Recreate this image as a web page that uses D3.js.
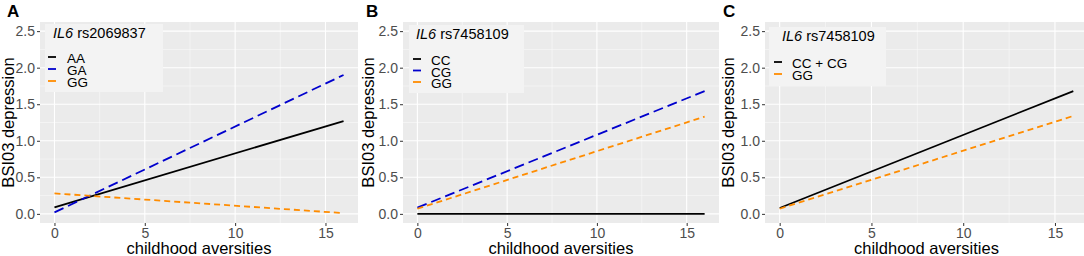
<!DOCTYPE html>
<html>
<head>
<meta charset="utf-8">
<script src="https://cdn.jsdelivr.net/npm/d3@7"></script>
<style>
  body { margin: 0; background: #fff; }
  svg { display: block; font-family: "Liberation Sans", Arial, sans-serif; }
</style>
</head>
<body>
<div id="chart-area"></div>
<script>
// values (lines are fitted slopes from 0 to 16)
const xVals = [0, 16];
const xTicks = [0, 5, 10, 15];
const xMinor = [2.5, 7.5, 12.5];
const yTicks = [0, 0.5, 1, 1.5, 2, 2.5];
const yMinor = [0.25, 0.75, 1.25, 1.75, 2.25];

const panelLetters = ['A', 'B', 'C'];
const snpNames = ['rs2069837', 'rs7458109', 'rs7458109'];

const groupsA = ['AA', 'GA', 'GG'];
const valsA = [[0.09, 1.27], [0.02, 1.90], [0.28, 0.01]];

const groupsB = ['CC', 'CG', 'GG'];
const valsB = [[0.0, 0.0], [0.085, 1.68], [0.07, 1.33]];

const groupsC = ['CC + CG', 'GG'];
const valsC = [[0.08, 1.68], [0.07, 1.34]];

const styles = {
  solid: {color: '#000000', dash: null},
  long: {color: '#0000cd', dash: '10,5'},
  short: {color: '#ff8c00', dash: '6,4'}
};

const W = 1084, H = 256;
const svg = d3.select('#chart-area')
  .append('svg')
  .attr('width', W)
  .attr('height', H);

const panels = [
  {left: 40, right: 358, titleX: 14, letterX: 7,
   legend: {x: 45, y: 24, w: 118, h: 68, titleDx: 8, keyDx: 3, textDx: 22, first: 63, step: 12},
   groups: groupsA, vals: valsA, kinds: ['solid', 'long', 'short']},
  {left: 403, right: 719, titleX: 374, letterX: 366,
   legend: {x: 409, y: 25, w: 115, h: 68, titleDx: 7, keyDx: 4, textDx: 22, first: 65, step: 11.5},
   groups: groupsB, vals: valsB, kinds: ['solid', 'long', 'short']},
  {left: 765, right: 1088, titleX: 734, letterX: 723,
   legend: {x: 769, y: 27, w: 117, h: 59, titleDx: 13, keyDx: 5, textDx: 23, first: 68, step: 12},
   groups: groupsC, vals: valsC, kinds: ['solid', 'short']}
];

const plotTop = 22, plotBottom = 223;

panels.forEach((p, i) => {
  const g = svg.append('g');

  const x = d3.scaleLinear()
    .domain([-0.8, 16.8])
    .range([p.left, p.right]);

  const y = d3.scaleLinear()
    .domain([-0.125, 2.625])
    .range([plotBottom, plotTop]);

  // panel background
  g.append('rect')
    .attr('x', p.left)
    .attr('y', plotTop)
    .attr('width', p.right - p.left)
    .attr('height', plotBottom - plotTop)
    .attr('fill', '#ebebeb');

  // grid
  g.selectAll('.ymin').data(yMinor).enter().append('line')
    .attr('x1', p.left).attr('x2', p.right)
    .attr('y1', d => y(d)).attr('y2', d => y(d))
    .attr('stroke', '#fafafa').attr('stroke-width', 0.6);
  g.selectAll('.xmin').data(xMinor).enter().append('line')
    .attr('y1', plotTop).attr('y2', plotBottom)
    .attr('x1', d => x(d)).attr('x2', d => x(d))
    .attr('stroke', '#fafafa').attr('stroke-width', 0.6);
  g.selectAll('.ymaj').data(yTicks).enter().append('line')
    .attr('x1', p.left).attr('x2', p.right)
    .attr('y1', d => y(d)).attr('y2', d => y(d))
    .attr('stroke', '#ffffff').attr('stroke-width', 1.1);
  g.selectAll('.xmaj').data(xTicks).enter().append('line')
    .attr('y1', plotTop).attr('y2', plotBottom)
    .attr('x1', d => x(d)).attr('x2', d => x(d))
    .attr('stroke', '#ffffff').attr('stroke-width', 1.1);

  // axes
  const xAxis = d3.axisBottom(x).tickValues(xTicks).tickSize(3).tickPadding(2)
    .tickFormat(d3.format('d'));
  const yAxis = d3.axisLeft(y).tickValues(yTicks).tickSize(3).tickPadding(2)
    .tickFormat(d3.format('.1f'));

  const xg = g.append('g')
    .attr('transform', `translate(0, ${plotBottom})`)
    .call(xAxis);
  const yg = g.append('g')
    .attr('transform', `translate(${p.left}, 0)`)
    .call(yAxis);
  [xg, yg].forEach(ax => {
    ax.select('.domain').remove();
    ax.selectAll('.tick line').attr('stroke', '#333333');
    ax.selectAll('.tick text')
      .attr('fill', '#4d4d4d')
      .attr('font-size', '14px')
      .attr('font-family', '"Liberation Sans", Arial, sans-serif');
  });

  // lines
  const line = d3.line()
    .x((d, j) => x(xVals[j]))
    .y(d => y(d));

  p.vals.forEach((v, k) => {
    const st = styles[p.kinds[k]];
    g.append('path')
      .datum(v)
      .attr('d', line)
      .attr('fill', 'none')
      .attr('stroke', st.color)
      .attr('stroke-width', 1.8)
      .attr('stroke-dasharray', st.dash);
  });

  // legend
  const L = p.legend;
  const lg = g.append('g');
  lg.append('rect')
    .attr('x', L.x).attr('y', L.y)
    .attr('width', L.w).attr('height', L.h)
    .attr('fill', '#f3f3f3');
  const title = lg.append('text')
    .attr('x', L.x + L.titleDx)
    .attr('y', L.y + 14)
    .attr('font-size', '14.5px')
    .attr('fill', '#000');
  title.append('tspan').attr('font-style', 'italic').text('IL6');
  title.append('tspan').text(' ' + snpNames[i]);

  p.groups.forEach((name, k) => {
    const st = styles[p.kinds[k]];
    const by = L.first + k * L.step;
    lg.append('line')
      .attr('x1', L.x + L.keyDx).attr('x2', L.x + L.keyDx + 8)
      .attr('y1', by - 6).attr('y2', by - 6)
      .attr('stroke', st.color)
      .attr('stroke-width', 1.8);
    lg.append('text')
      .attr('x', L.x + L.textDx)
      .attr('y', by)
      .attr('font-size', '13.5px')
      .attr('fill', '#000')
      .text(name);
  });

  // axis titles
  g.append('text')
    .attr('x', (x(0) + x(16)) / 2)
    .attr('y', 254)
    .attr('text-anchor', 'middle')
    .attr('font-size', '16.5px')
    .text('childhood aversities');

  g.append('text')
    .attr('transform', `translate(${p.titleX}, ${(plotTop + plotBottom) / 2}) rotate(-90)`)
    .attr('text-anchor', 'middle')
    .attr('font-size', '16.5px')
    .text('BSI03 depression');

  // panel letter
  g.append('text')
    .attr('x', p.letterX)
    .attr('y', 17)
    .attr('font-size', '17px')
    .attr('font-weight', 'bold')
    .text(panelLetters[i]);
});
</script>
</body>
</html>
